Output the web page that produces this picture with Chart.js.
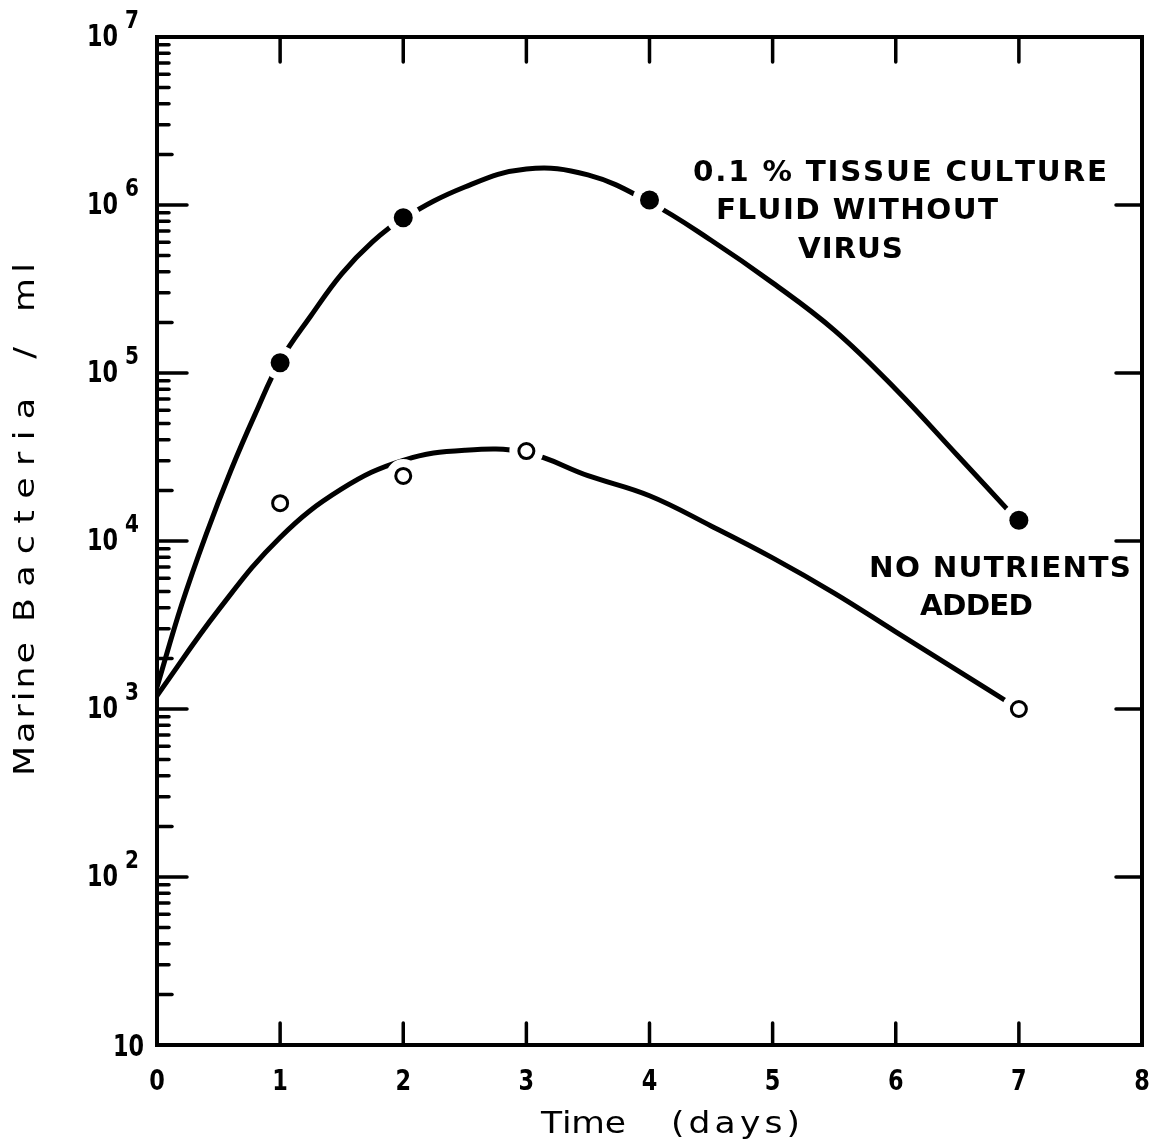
<!DOCTYPE html>
<html lang="en">
<head>
    <meta charset="UTF-8">
    <title>Marine Bacteria / ml</title>
    <script src="https://cdn.jsdelivr.net/npm/chart.js"></script>
    <style>
        body { margin: 0; background: #fff; }
        .wrap { width: 1162px; height: 1146px; }
    </style>
</head>
<body>
<div class="wrap"><canvas id="chart"></canvas></div>
<script>
    // axis ticks
    const dayTicks = [0, 1, 2, 3, 4, 5, 6, 7, 8];
    const decadeExps = [1, 2, 3, 4, 5, 6, 7];

    // measured points
    const filledDays = [1, 2, 4, 7];
    const filledValues = [1.15e5, 8.4e5, 1.07e6, 1.33e4];
    const openDays = [1, 2, 3, 7];
    const openValues = [1.68e4, 2.44e4, 3.43e4, 1.0e3];

    // hand-drawn fitted curves
    const upperFitDays = [0, 0.2, 0.4, 0.6, 0.8, 1, 1.25, 1.5, 1.75, 2, 2.5, 3, 3.5, 4, 4.5, 5, 5.5, 6, 6.5, 7];
    const upperFitValues = [1.35e3, 4.17e3, 1.1e4, 2.63e4, 5.75e4, 1.175e5, 2.19e5, 3.89e5, 6.03e5, 8.32e5,
        1.28e6, 1.64e6, 1.51e6, 1.04e6, 6.17e5, 3.44e5, 1.8e5, 8.0e4, 3.24e4, 1.3e4];
    const lowerFitDays = [0, 0.5, 1, 1.5, 2, 2.5, 3, 3.5, 4, 4.5, 5, 5.5, 6, 6.5, 7];
    const lowerFitValues = [1.2e3, 3.89e3, 1.05e4, 2.04e4, 3.02e4, 3.47e4, 3.35e4, 2.45e4, 1.86e4, 1.23e4,
        7.94e3, 4.9e3, 2.88e3, 1.7e3, 1.0e3];

    const upperLabel = ['0.1 % TISSUE CULTURE', 'FLUID WITHOUT', 'VIRUS'];
    const lowerLabel = ['NO NUTRIENTS', 'ADDED'];
    const xTitle = ['Time', '(days)'];
    const yTitle = ['Marine', 'Bacteria', '/', 'ml'];

    const toXY = (xs, ys) => xs.map((x, i) => ({ x: x, y: ys[i] }));
    const INK = '#000';
    const FONT = "'DejaVu Sans', sans-serif";

    // draw text spread evenly between x0 and x1, glyphs stretched by sx
    function spreadText(ctx, text, x0, x1, y, sx) {
        sx = sx || 1;
        const chars = text.split('');
        const w = chars.reduce((s, c) => s + ctx.measureText(c).width * sx, 0);
        const gap = chars.length > 1 ? (x1 - x0 - w) / (chars.length - 1) : 0;
        let x = chars.length > 1 ? x0 : (x0 + x1 - w) / 2;
        ctx.textAlign = 'left';
        chars.forEach(c => {
            ctx.save();
            ctx.translate(x, y);
            ctx.scale(sx, 1);
            ctx.fillText(c, 0, 0);
            ctx.restore();
            x += ctx.measureText(c).width * sx + gap;
        });
    }

    // white gap where the curves run into the symbols, then the symbols again on top
    const gaps = {
        id: 'gaps',
        afterDatasetsDraw(chart) {
            const ctx = chart.ctx;
            const metas = [chart.getDatasetMeta(0), chart.getDatasetMeta(1)];
            ctx.save();
            ctx.fillStyle = '#fff';
            metas.forEach(meta => {
                meta.data.forEach(pt => {
                    ctx.beginPath();
                    ctx.arc(pt.x, pt.y, 17, 0, Math.PI * 2);
                    ctx.fill();
                });
            });
            ctx.restore();
            metas.forEach(meta => {
                meta.data.forEach(pt => pt.draw(ctx, chart.chartArea));
            });
        }
    };

    const frame = {
        id: 'frame',
        afterDraw(chart) {
            const ctx = chart.ctx;
            const xs = chart.scales.x, ys = chart.scales.y;
            const a = chart.chartArea;
            ctx.save();
            ctx.strokeStyle = INK;
            ctx.fillStyle = INK;
            ctx.lineCap = 'round';

            // box
            ctx.lineWidth = 4;
            ctx.strokeRect(a.left, a.top, a.right - a.left, a.bottom - a.top);

            // x ticks, top and bottom, inward
            ctx.lineWidth = 3.5;
            dayTicks.slice(1, -1).forEach(d => {
                const px = xs.getPixelForValue(d);
                ctx.beginPath();
                ctx.moveTo(px, a.bottom); ctx.lineTo(px, a.bottom - 22);
                ctx.moveTo(px, a.top); ctx.lineTo(px, a.top + 25);
                ctx.stroke();
            });

            // y ticks: decades on both sides, minors on the left
            decadeExps.forEach(e => {
                const base = Math.pow(10, e);
                if (e < 7) {
                    const py = ys.getPixelForValue(base);
                    if (e > 1) {
                        ctx.beginPath();
                        ctx.moveTo(a.left, py); ctx.lineTo(a.left + 30, py);
                        ctx.moveTo(a.right, py); ctx.lineTo(a.right - 26, py);
                        ctx.stroke();
                    }
                    for (let m = 2; m <= 9; m++) {
                        const my = ys.getPixelForValue(base * m);
                        ctx.beginPath();
                        ctx.moveTo(a.left, my); ctx.lineTo(a.left + (m === 2 ? 15 : 12), my);
                        ctx.stroke();
                    }
                }
            });

            // x tick labels
            ctx.font = 'bold 28px ' + FONT;
            ctx.textBaseline = 'middle';
            dayTicks.forEach(d => {
                ctx.save();
                ctx.translate(xs.getPixelForValue(d), a.bottom + 38);
                ctx.scale(0.8, 1);
                ctx.textAlign = 'center';
                ctx.fillText(String(d), 0, 0);
                ctx.restore();
            });

            // y tick labels, 10 with superscript exponent
            decadeExps.forEach(e => {
                const py = ys.getPixelForValue(Math.pow(10, e));
                ctx.save();
                ctx.textAlign = 'right';
                ctx.font = 'bold 31px ' + FONT;
                if (e === 1) {
                    ctx.translate(a.left - 13, py + 3);
                    ctx.scale(0.72, 1);
                    ctx.fillText('10', 0, 0);
                } else {
                    ctx.save();
                    ctx.translate(a.left - 39, py + 1);
                    ctx.scale(0.72, 1);
                    ctx.fillText('10', 0, 0);
                    ctx.restore();
                    ctx.translate(a.left - 25, py - 16);
                    ctx.scale(0.8, 1);
                    ctx.font = 'bold 25px ' + FONT;
                    ctx.textAlign = 'center';
                    ctx.fillText(String(e), 0, 0);
                }
                ctx.restore();
            });

            // curve labels
            ctx.font = 'bold 28px ' + FONT;
            ctx.textBaseline = 'middle';
            spreadText(ctx, upperLabel[0], 693, 1107, 174, 1.05);
            spreadText(ctx, upperLabel[1], 716, 998, 212, 1.05);
            spreadText(ctx, upperLabel[2], 798, 903, 251, 1.05);
            spreadText(ctx, lowerLabel[0], 869, 1131, 570, 1.05);
            spreadText(ctx, lowerLabel[1], 920, 1033, 608, 1.05);

            // x title
            ctx.font = '30px ' + FONT;
            ctx.textBaseline = 'alphabetic';
            spreadText(ctx, xTitle[0], 541, 626, 1133, 1.15);
            spreadText(ctx, xTitle[1], 671, 800, 1133, 1.15);

            // y title, rotated
            ctx.save();
            ctx.translate(34, 0);
            ctx.rotate(-Math.PI / 2);
            ctx.font = '29px ' + FONT;
            ctx.textBaseline = 'alphabetic';
            spreadText(ctx, yTitle[0], -776, -642, 0, 1.2);
            spreadText(ctx, yTitle[1], -622, -398, 0, 1.2);
            spreadText(ctx, yTitle[2], -366, -340, 0, 1.2);
            spreadText(ctx, yTitle[3], -312, -263, 0, 1.2);
            ctx.restore();

            ctx.restore();
        }
    };

    new Chart(document.getElementById('chart'), {
        type: 'scatter',
        data: {
            datasets: [
                {
                    label: 'filled',
                    data: toXY(filledDays, filledValues),
                    pointRadius: 9.5,
                    pointBackgroundColor: INK,
                    pointBorderWidth: 0,
                    showLine: false
                },
                {
                    label: 'open',
                    data: toXY(openDays, openValues),
                    pointRadius: 7.5,
                    pointBackgroundColor: '#fff',
                    pointBorderColor: INK,
                    pointBorderWidth: 3,
                    showLine: false
                },
                {
                    label: '0.1 % tissue culture fluid without virus',
                    data: toXY(upperFitDays, upperFitValues),
                    showLine: true,
                    borderColor: INK,
                    borderWidth: 5,
                    tension: 0.4,
                    pointRadius: 0
                },
                {
                    label: 'no nutrients added',
                    data: toXY(lowerFitDays, lowerFitValues),
                    showLine: true,
                    borderColor: INK,
                    borderWidth: 5,
                    tension: 0.4,
                    pointRadius: 0
                }
            ]
        },
        options: {
            responsive: true,
            maintainAspectRatio: false,
            animation: false,
            layout: { padding: { left: 157, right: 20, top: 37, bottom: 101 } },
            plugins: { legend: { display: false }, tooltip: { enabled: false } },
            scales: {
                x: { type: 'linear', min: 0, max: 8, display: false },
                y: { type: 'logarithmic', min: 10, max: 1e7, display: false }
            }
        },
        plugins: [gaps, frame]
    });
</script>
</body>
</html>
